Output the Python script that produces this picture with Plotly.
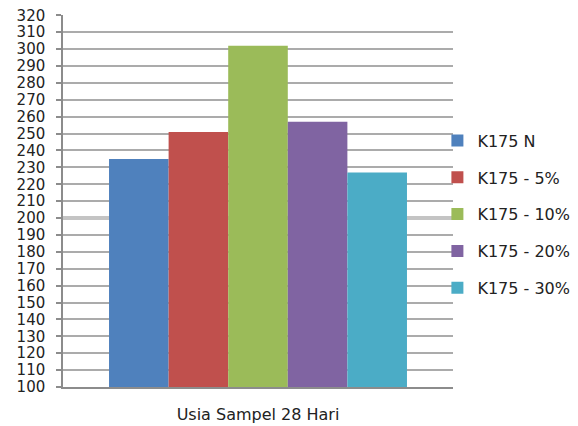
import plotly.graph_objects as go

category = ["Usia Sampel 28 Hari"]
series_names = ["K175 N", "K175 - 5%", "K175 - 10%", "K175 - 20%", "K175 - 30%"]
series_values = [235, 251, 302, 257, 227]
series_colors = ["#4F81BD", "#C0504D", "#9BBB59", "#8064A2", "#4BACC6"]
y_ticks = list(range(100, 321, 10))

fig = go.Figure()
for i, (name, val, col) in enumerate(zip(series_names, series_values, series_colors)):
    fig.add_trace(go.Bar(
        x=category, y=[val], name=name, marker_color=col,
        marker_line_width=0, legendgroup=f"g{i}",
    ))

# invisible trace for emphasised 200 gridline
fig.add_trace(go.Scatter(x=category, y=[200], yaxis="y2", mode="markers",
                         marker_opacity=0, showlegend=False, hoverinfo="skip"))

font_family = "DejaVu Sans"
fig.update_layout(
    width=570, height=418,
    margin=dict(l=55, r=125, t=7, b=39, autoexpand=False),
    paper_bgcolor="white", plot_bgcolor="white",
    barmode="group", bargap=0.236, bargroupgap=0,
    font=dict(family=font_family, color="#222222"),
    showlegend=True,
    legend=dict(
        x=0.96, xanchor="left", y=0.708, yanchor="top",
        font=dict(size=16, family=font_family, color="#222222"),
        tracegroupgap=13, bgcolor="rgba(0,0,0,0)",
    ),
    xaxis=dict(
        showgrid=False, showline=True, linecolor="#8C8C8C", linewidth=1.5,
        ticks="", tickfont=dict(size=16), ticklabelstandoff=12, automargin=False,
    ),
    yaxis=dict(
        range=[100, 320.2], tickvals=y_ticks, showgrid=True,
        gridcolor="#ABABAB", gridwidth=1.5,
        showline=True, linecolor="#8C8C8C", linewidth=1.5,
        ticks="outside", ticklen=5, tickcolor="#8C8C8C", tickwidth=1.5,
        tickfont=dict(size=15), ticklabelstandoff=8, zeroline=False,
        automargin=False, ticklabeloverflow="allow",
    ),
    yaxis2=dict(
        overlaying="y", range=[100, 320.2], tickvals=[200], showgrid=True,
        gridcolor="#C4C4C4", gridwidth=3.5, showticklabels=False,
        showline=False, zeroline=False, layer="below traces", automargin=False,
    ),
)

fig.write_html("out.html")
